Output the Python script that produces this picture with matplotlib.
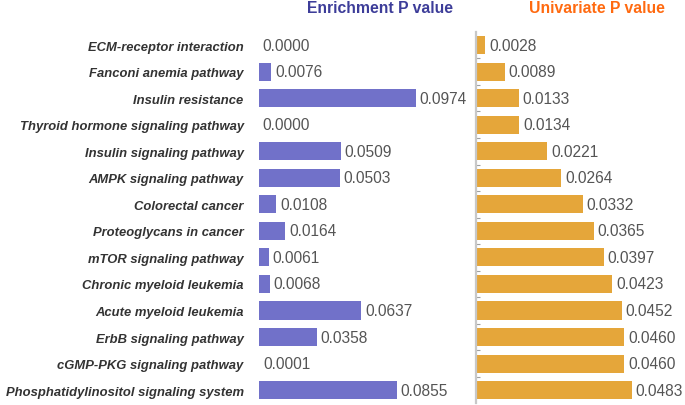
#!/usr/bin/env python3
"""Enrichment vs univariate P value bars for KEGG pathways."""

import matplotlib

matplotlib.use("Agg")
import matplotlib.pyplot as plt
from matplotlib.ticker import FixedLocator, NullLocator

pathways = [
    "ECM-receptor interaction",
    "Fanconi anemia pathway",
    "Insulin resistance",
    "Thyroid hormone signaling pathway",
    "Insulin signaling pathway",
    "AMPK signaling pathway",
    "Colorectal cancer",
    "Proteoglycans in cancer",
    "mTOR signaling pathway",
    "Chronic myeloid leukemia",
    "Acute myeloid leukemia",
    "ErbB signaling pathway",
    "cGMP-PKG signaling pathway",
    "Phosphatidylinositol signaling system",
]
enrichment_p = [0.0000, 0.0076, 0.0974, 0.0000, 0.0509, 0.0503, 0.0108,
                0.0164, 0.0061, 0.0068, 0.0637, 0.0358, 0.0001, 0.0855]
univariate_p = [0.0028, 0.0089, 0.0133, 0.0134, 0.0221, 0.0264, 0.0332,
                0.0365, 0.0397, 0.0423, 0.0452, 0.0460, 0.0460, 0.0483]

PURPLE = "#7171c9"
ORANGE = "#e5a63a"
plt.rcParams["font.family"] = ["Liberation Sans", "DejaVu Sans"]

fig = plt.figure(figsize=(6.85, 4.06), dpi=100)
bottom, height = 0.004, 0.915
ax_l = fig.add_axes([0.378, bottom, 0.282, height])
ax_r = fig.add_axes([0.695, bottom, 0.282, height])

ypos = list(range(len(pathways)))


def _draw(ax, values, color, xmax):
    ax.barh(ypos, values, height=0.68, color=color)
    for y, v in zip(ypos, values):
        ax.text(v + xmax * 0.02, y, f"{v:.4f}", va="center", ha="left",
                fontsize=11.2, color="#555555")
    ax.set_xlim(0, xmax)
    ax.set_ylim(len(pathways) - 0.5, -0.5)
    ax.xaxis.set_major_locator(NullLocator())
    for side in ("top", "right", "bottom"):
        ax.spines[side].set_visible(False)


_draw(ax_l, enrichment_p, PURPLE, 0.12)
ax_l.spines["left"].set_visible(False)
ax_l.set_yticks(ypos)
ax_l.set_yticklabels(pathways, fontsize=9.4, fontweight="bold", style="italic", color="#333333")
ax_l.tick_params(axis="y", length=0, pad=11)

_draw(ax_r, univariate_p, ORANGE, 0.06)
ax_r.spines["left"].set_color("#c8c8c8")
ax_r.spines["left"].set_linewidth(1.6)
ax_r.yaxis.set_major_locator(FixedLocator([y + 0.5 for y in ypos[:-1]]))
ax_r.set_yticklabels([])
ax_r.tick_params(axis="y", direction="in", length=3, color="#a0a0a0", width=0.8)

fig.text(0.555, 0.978, "Enrichment P value", ha="center", va="center",
         fontsize=11.3, fontweight="bold", color="#3d3d99")
fig.text(0.871, 0.978, "Univariate P value", ha="center", va="center",
         fontsize=11.3, fontweight="bold", color="#ff6a10")

fig.savefig("out.png", dpi=100)
